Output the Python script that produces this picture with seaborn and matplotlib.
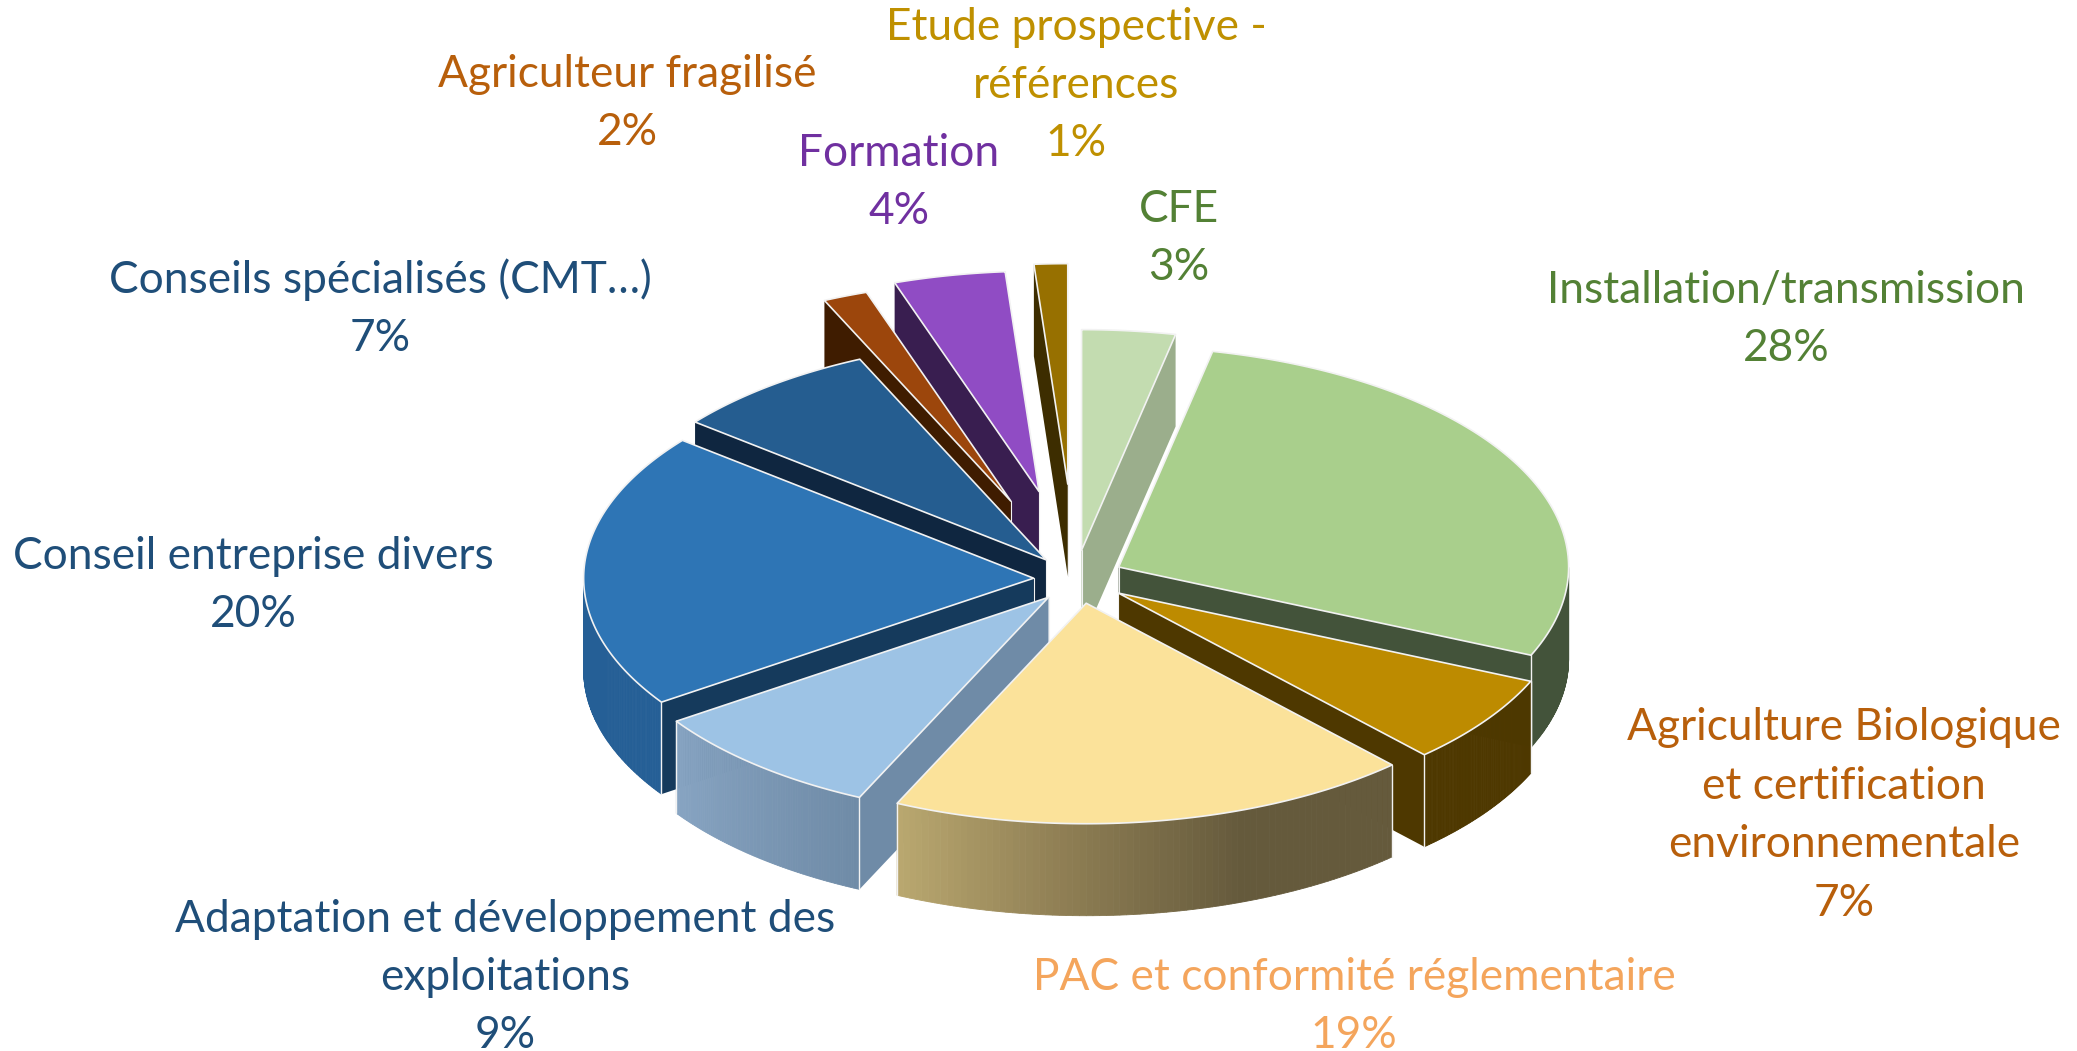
import numpy as np
import matplotlib.pyplot as plt
import seaborn as sns

sns.set_theme(style="white")
plt.rcParams['font.family'] = ['Lato', 'DejaVu Sans']

# slices, clockwise from 12 o'clock (labels show the rounded share)
labels = ["CFE", "Installation/transmission",
          "Agriculture Biologique\net certification\nenvironnementale",
          "PAC et conformité réglementaire",
          "Adaptation et développement des\nexploitations",
          "Conseil entreprise divers", "Conseils spécialisés (CMT…)",
          "Agriculteur fragilisé", "Formation",
          "Etude prospective -\nréférences"]
shares = [3.35, 28.2, 6.55, 18.8, 8.6, 20.25, 7.45, 1.6, 4.0, 1.2]
explode = [0.118, 0.109, 0.118, 0.102, 0.091, 0.092, 0.104, 0.375, 0.40, 0.426]
# small pixel corrections to the exploded slices
nudge = [(1, -2), (0, 0), (0, 0), (4, 3), (0, 4), (0, 1), (0, 0), (-2, 0), (0, 0), (0, 0)]

# colours: top face, radial wall, outer wall (left to right)
top_colors = ["#c3dcb0", "#a9cf8c", "#bd8b00", "#fbe29a", "#9dc3e5",
              "#2e75b5", "#255d90", "#9c460c", "#904cc4", "#977000"]
side_colors = ["#9bae8c", "#43533a", "#4e3800", "#5f5338", "#6f8ba7",
               "#153a5c", "#0f2640", "#3f1c00", "#391e50", "#3d2d00"]
wall_colors = [["#9bae8c"], ["#43533a"], ["#4e3800"],
               ["#b9a76f", "#8d7d53", "#655a3c", "#655a3c"],
               ["#87a4c2", "#6f8ba7"], ["#255f96"], ["#0f2640"],
               ["#3f1c00"], ["#391e50"], ["#3d2d00"]]
text_colors = ["#538135", "#538135", "#b85f0b", "#f4a55c", "#1f4e79",
               "#1f4e79", "#1f4e79", "#b85f0b", "#7030a0", "#bf9000"]

# label block centres in pixels
label_pos = [(1179, 236), (1786, 317), (1844, 813), (1354, 1004), (505, 975),
             (253, 583), (380, 307), (627, 101), (899, 180), (1076, 83)]

# back to front
draw_order = [9, 8, 7, 6, 5, 4, 0, 1, 2, 3]

CX, CY = 1075, 578
R = 450
TILT = 0.49
DEPTH = 92
EDGE = "#f2f2f2"
LINE_PITCH = 58.5


def point(theta, radius, ox, oy):
    return ox + radius * np.sin(theta), oy - TILT * radius * np.cos(theta)


fig = plt.figure(figsize=(20.77, 10.51), dpi=100)
ax = fig.add_axes([0, 0, 1, 1])
ax.set_xlim(0, 2077)
ax.set_ylim(1051, 0)
ax.axis("off")

edges = np.radians(np.concatenate([[0], np.cumsum(shares)]) * 3.6)

for z, i in enumerate(draw_order):
    t1, t2 = edges[i], edges[i + 1]
    mid = (t1 + t2) / 2
    ox, oy = point(mid, explode[i] * R, CX, CY)
    ox, oy = ox + nudge[i][0], oy + nudge[i][1]
    level = z * 10 + 2

    # radial walls
    for t, visible in [(t1, np.pi < t1 < 2 * np.pi), (t2, 0 < t2 < np.pi)]:
        if visible:
            ex, ey = point(t, R, ox, oy)
            ax.fill([ox, ex, ex, ox], [oy, ey, ey + DEPTH, oy + DEPTH],
                    color=side_colors[i], lw=0, zorder=level)
            ax.plot([ox, ox], [oy, oy + DEPTH], color=EDGE, lw=0.8, zorder=level + 2)

    # outer wall, only the front half of the rim shows
    a, b = max(t1, np.pi / 2), min(t2, 3 * np.pi / 2)
    if a < b:
        steps = np.linspace(a, b, 80)
        ramp = sns.blend_palette(wall_colors[i] * (2 if len(wall_colors[i]) == 1 else 1), 79)
        xs, ys = point(steps, R, ox, oy)
        # the gradient runs left to right, the angles right to left
        for k in range(79):
            ax.fill([xs[k], xs[k + 1], xs[k + 1], xs[k]],
                    [ys[k], ys[k + 1], ys[k + 1] + DEPTH, ys[k] + DEPTH],
                    color=ramp[78 - k], lw=0.6, zorder=level + 1)
    # corner lines, only where the slice really ends on the front rim
    for t in (t1, t2):
        if np.pi / 2 < t < 3 * np.pi / 2:
            ex, ey = point(t, R, ox, oy)
            ax.plot([ex, ex], [ey, ey + DEPTH], color=EDGE, lw=1.0, zorder=level + 2)

    # top face
    arc = np.linspace(t1, t2, 120)
    xs, ys = point(arc, R, ox, oy)
    ax.fill(np.r_[ox, xs], np.r_[oy, ys], facecolor=top_colors[i],
            edgecolor=EDGE, lw=1.2, joinstyle="round", zorder=level + 3)

# one text per line, so the boxes of neighbouring labels stay apart
for name, share, pos, col in zip(labels, shares, label_pos, text_colors):
    lines = name.split("\n") + [f"{round(share)}%"]
    first = pos[1] - (len(lines) - 1) / 2 * LINE_PITCH + 15
    for n, line in enumerate(lines):
        ax.text(pos[0], first + n * LINE_PITCH, line, color=col, fontsize=31.9,
                ha="center", va="baseline", zorder=500)

fig.savefig("out.png", dpi=100, facecolor="white")
